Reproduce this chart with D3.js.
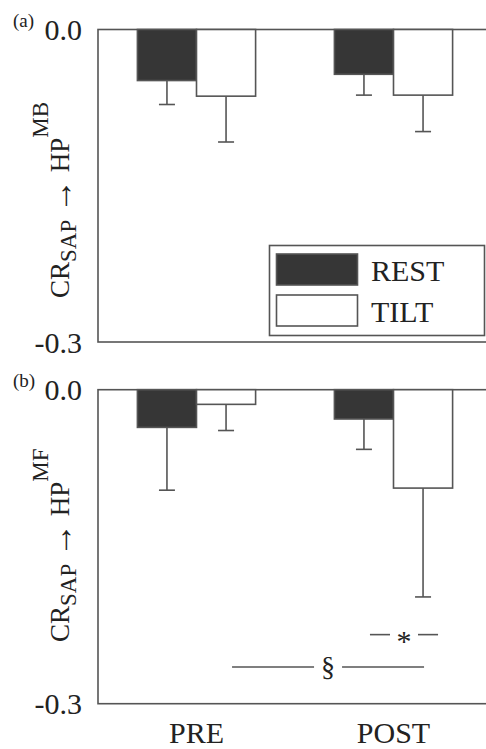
<!DOCTYPE html>
<html>
<head>
<meta charset="utf-8">
<script src="https://cdn.jsdelivr.net/npm/d3@7"></script>
<style>
  html, body { margin: 0; padding: 0; background: #fff; }
  svg text { font-family: "Times New Roman", "Liberation Serif", Times, serif; fill: #222; }
</style>
</head>
<body>
<svg id="chart" width="486" height="749"></svg>
<script>
// data
const phases = ['PRE', 'POST']
const conditions = ['REST', 'TILT']
const yTicks = [0.0, -0.3]

// (a) MB band
const mbRest = [-0.049, -0.043]
const mbTilt = [-0.064, -0.063]
const mbRestErr = [0.023, 0.020]
const mbTiltErr = [0.044, 0.035]

// (b) MF band
const mfRest = [-0.036, -0.028]
const mfTilt = [-0.014, -0.094]
const mfRestErr = [0.060, 0.029]
const mfTiltErr = [0.025, 0.104]

// significance marks in panel (b)
const sigSymbols = ['*', '§']
const sigLevels = [-0.234, -0.265]
const sigFrom = [['POST', 'REST'], ['PRE', 'TILT']]
const sigTo = [['POST', 'TILT'], ['POST', 'TILT']]

const svg = d3.select('#chart')
const left = 98
const right = 492

const x = d3.scaleBand()
  .domain(phases)
  .range([left, right])
  .paddingInner(0.4)
  .paddingOuter(0.2)

const xc = d3.scaleBand()
  .domain(conditions)
  .range([0, x.bandwidth()])

const fills = { REST: '#363636', TILT: '#fff' }
const stroke = '#555'

function barCenter (p, c) {
  return x(p) + xc(c) + xc.bandwidth() / 2
}

function drawPanel (opts) {
  const y = d3.scaleLinear().domain([0, -0.3]).range([opts.top, opts.bottom])
  const g = svg.append('g')

  // frame (right edge runs off the picture)
  g.append('rect')
    .attr('x', left).attr('y', opts.top)
    .attr('width', 500).attr('height', opts.bottom - opts.top)
    .attr('fill', 'none').attr('stroke', stroke).attr('stroke-width', 1.6)

  // y tick labels
  g.selectAll('text.tick')
    .data(yTicks)
    .enter().append('text')
    .attr('class', 'tick')
    .attr('x', left - 16)
    .attr('y', d => y(d))
    .attr('dy', '0.35em')
    .attr('text-anchor', 'end')
    .style('font-size', '30px')
    .text(d => d.toFixed(1))

  // panel letter
  g.append('text')
    .attr('x', 13).attr('y', opts.top - 3)
    .style('font-size', '19px')
    .text(opts.letter)

  // y axis label
  const lab = g.append('text')
    .attr('transform', `translate(69,${opts.labelStart}) rotate(-90)`)
    .style('font-size', '27px')
  lab.append('tspan').text('CR')
  lab.append('tspan').attr('dy', 7).style('font-size', '23px').text('SAP')
  lab.append('tspan').attr('dy', -4).text(' ')
  lab.append('tspan').style('font-size', '34px').text('\u2192')
  lab.append('tspan').attr('dy', -3).text(' HP')
  lab.append('tspan').attr('dy', -21).style('font-size', '23px').text(opts.sup)

  const rows = []
  phases.forEach((p, i) => {
    rows.push({ p, c: 'REST', v: opts.rest[i], e: opts.restErr[i] })
    rows.push({ p, c: 'TILT', v: opts.tilt[i], e: opts.tiltErr[i] })
  })

  // error bars (drawn first, below the bars)
  const eb = g.selectAll('g.err').data(rows).enter().append('g')
  eb.append('line')
    .attr('x1', d => barCenter(d.p, d.c)).attr('x2', d => barCenter(d.p, d.c))
    .attr('y1', d => y(d.v)).attr('y2', d => y(d.v - d.e))
    .attr('stroke', stroke).attr('stroke-width', 1.6)
  eb.append('line')
    .attr('x1', d => barCenter(d.p, d.c) - 8).attr('x2', d => barCenter(d.p, d.c) + 8)
    .attr('y1', d => y(d.v - d.e)).attr('y2', d => y(d.v - d.e))
    .attr('stroke', stroke).attr('stroke-width', 1.6)

  g.selectAll('rect.bar')
    .data(rows)
    .enter().append('rect')
    .attr('class', 'bar')
    .attr('x', d => x(d.p) + xc(d.c))
    .attr('y', y(0))
    .attr('width', xc.bandwidth())
    .attr('height', d => y(d.v) - y(0))
    .attr('fill', d => fills[d.c])
    .attr('stroke', stroke).attr('stroke-width', 1.6)

  // category labels
  if (opts.xLabels) {
    g.selectAll('text.cat')
      .data(phases)
      .enter().append('text')
      .attr('x', d => x(d) + x.bandwidth() / 2)
      .attr('y', opts.bottom + 39)
      .attr('text-anchor', 'middle')
      .style('font-size', '30px')
      .text(d => d)
  }
  return { g, y }
}

const a = drawPanel({
  top: 29.5, bottom: 342, letter: '(a)', sup: 'MB', labelStart: 298,
  rest: mbRest, tilt: mbTilt, restErr: mbRestErr, tiltErr: mbTiltErr
})

const b = drawPanel({
  top: 389.7, bottom: 703.7, letter: '(b)', sup: 'MF', labelStart: 642,
  rest: mfRest, tilt: mfTilt, restErr: mfRestErr, tiltErr: mfTiltErr, xLabels: true
})

// legend in panel (a)
const leg = a.g.append('g')
leg.append('rect')
  .attr('x', 269.5).attr('y', 245.5).attr('width', 215).attr('height', 90)
  .attr('fill', '#fff').attr('stroke', stroke).attr('stroke-width', 1.6)
conditions.forEach((c, i) => {
  leg.append('rect')
    .attr('x', 276.5).attr('y', 254 + i * 41).attr('width', 81).attr('height', 31)
    .attr('fill', fills[c]).attr('stroke', stroke).attr('stroke-width', 1.6)
  leg.append('text')
    .attr('x', 371).attr('y', 281 + i * 41)
    .style('font-size', '30px')
    .text(c)
})

// significance lines in panel (b)
sigSymbols.forEach((s, i) => {
  const x1 = barCenter(sigFrom[i][0], sigFrom[i][1]) + 6
  const x2 = barCenter(sigTo[i][0], sigTo[i][1]) + (i === 0 ? 15 : 1)
  const mid = (x1 + x2) / 2
  const yy = b.y(sigLevels[i])
  const gap = 14
  b.g.append('line')
    .attr('x1', x1).attr('x2', mid - gap).attr('y1', yy).attr('y2', yy)
    .attr('stroke', stroke).attr('stroke-width', 1.6)
  b.g.append('line')
    .attr('x1', mid + gap).attr('x2', x2).attr('y1', yy).attr('y2', yy)
    .attr('stroke', stroke).attr('stroke-width', 1.6)
  b.g.append('text')
    .attr('x', mid).attr('y', yy)
    .attr('dy', s === '*' ? '0.55em' : '0.33em')
    .attr('text-anchor', 'middle')
    .style('font-size', s === '*' ? '30px' : '28px')
    .text(s)
})
</script>
</body>
</html>
